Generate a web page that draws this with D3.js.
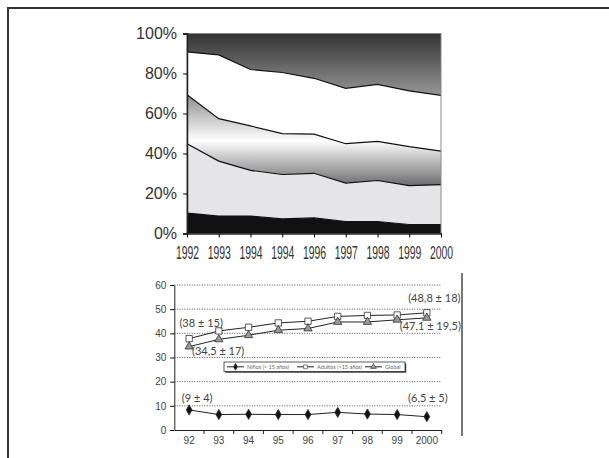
<!DOCTYPE html>
<html>
<head>
<meta charset="utf-8">
<script src="https://cdn.jsdelivr.net/npm/d3@7"></script>
<style>
  body { margin: 0; background: #fff; }
  svg { display: block; font-family: Lato, "Open Sans", sans-serif; }
</style>
</head>
<body>
<svg id="chart" width="609" height="458"></svg>
<script>
// top chart: stacked shares (%), bottom band first
const years = ['1992', '1993', '1994', '1994', '1996', '1997', '1998', '1999', '2000'];
const layerBlack = [10.2, 8.7, 8.7, 7.3, 7.8, 6.0, 6.0, 4.5, 4.5];
const layerLight = [34.7, 27.5, 22.9, 22.2, 22.3, 19.2, 20.5, 19.4, 19.9];
const layerMid = [24.5, 21.2, 22.2, 20.4, 19.6, 19.7, 19.6, 19.5, 16.8];
const layerWhite = [21.4, 31.9, 28.2, 30.6, 27.9, 27.7, 28.5, 27.9, 27.9];
const layerTop = [9.2, 10.7, 18.0, 19.5, 22.4, 27.4, 25.4, 28.7, 30.9];
const pctTicks = [0, 20, 40, 60, 80, 100];

// bottom chart: mean ages
const shortYears = ['92', '93', '94', '95', '96', '97', '98', '99', '2000'];
const ninos = [8.3, 6.4, 6.5, 6.4, 6.4, 7.3, 6.6, 6.4, 5.5];
const adultos = [37.8, 41.0, 42.5, 44.3, 45.0, 47.0, 47.4, 47.6, 48.5];
const global = [34.5, 37.5, 39.2, 41.3, 42.0, 44.7, 44.7, 45.6, 46.4];
const ageTicks = [0, 10, 20, 30, 40, 50, 60];
const legendNames = ['Niños (< 15 años)', 'Adultos (>15 años)', 'Global'];
const notes = ['(48,8 ± 18)', '(38 ± 15)', '(47,1 ± 19,5)', '(34,5 ± 17)', '(9 ± 4)', '(6,5 ± 5)'];

const svg = d3.select('#chart');

// page frame
svg.append('path').attr('d', 'M8,458V8H609').attr('fill', 'none')
    .attr('stroke', '#333').attr('stroke-width', 2);

// ---------- top chart ----------
const mTop = { left: 187, right: 441, top: 33.5, bottom: 233.5 };
const xTop = d3.scalePoint().domain(d3.range(years.length)).range([mTop.left, mTop.right]);
const yTop = d3.scaleLinear().domain([0, 100]).range([mTop.bottom, mTop.top]);

const defs = svg.append('defs');
const gMid = defs.append('linearGradient').attr('id', 'gMid')
    .attr('gradientUnits', 'userSpaceOnUse')
    .attr('x1', 0).attr('x2', 0).attr('y1', yTop(70)).attr('y2', yTop(23));
gMid.append('stop').attr('offset', 0).attr('stop-color', '#8a8a8a');
gMid.append('stop').attr('offset', 0.5).attr('stop-color', '#ffffff');
gMid.append('stop').attr('offset', 1).attr('stop-color', '#666666');
const gTop = defs.append('linearGradient').attr('id', 'gTop')
    .attr('gradientUnits', 'userSpaceOnUse')
    .attr('x1', 0).attr('x2', 0).attr('y1', yTop(100)).attr('y2', yTop(68));
gTop.append('stop').attr('offset', 0).attr('stop-color', '#333333');
gTop.append('stop').attr('offset', 1).attr('stop-color', '#999999');

const rows = years.map((y, i) => ({
    i, a: layerBlack[i], b: layerLight[i], c: layerMid[i], d: layerWhite[i], e: layerTop[i]
}));
const stack = d3.stack().keys(['a', 'b', 'c', 'd', 'e'])(rows);
const fills = ['#111', '#e5e5e7', 'url(#gMid)', '#fff', 'url(#gTop)'];

const area = d3.area().x(d => xTop(d.data.i)).y0(d => yTop(d[0])).y1(d => yTop(d[1]));
const line = d3.line().x(d => xTop(d.data.i)).y(d => yTop(d[1]));

svg.append('g').selectAll('path').data(stack).join('path')
    .attr('d', area).attr('fill', (d, i) => fills[i]);
svg.append('g').selectAll('path').data(stack.slice(0, 4)).join('path')
    .attr('d', line).attr('fill', 'none').attr('stroke', '#111').attr('stroke-width', 1.2);
svg.append('rect').attr('x', mTop.left).attr('y', mTop.top)
    .attr('width', mTop.right - mTop.left).attr('height', mTop.bottom - mTop.top)
    .attr('fill', 'none').attr('stroke', '#888').attr('stroke-width', 1);

const axT = svg.append('g').attr('transform', `translate(${mTop.left},0)`)
    .call(d3.axisLeft(yTop).tickValues(pctTicks).tickFormat(d => d + '%').tickSize(4).tickPadding(6));
axT.select('.domain').attr('stroke', '#222').attr('stroke-width', 1.5);
axT.selectAll('text').attr('font-size', 16).attr('fill', '#333');

// condensed year labels, squeezed horizontally
const axB = svg.append('g').attr('transform', `translate(0,${mTop.bottom})`)
    .call(d3.axisBottom(xTop).tickFormat(i => years[i]).tickSize(4).tickPadding(8).tickSizeOuter(0));
axB.select('.domain').attr('stroke', '#222').attr('stroke-width', 1.5);
axB.selectAll('text').attr('font-size', 19).attr('fill', '#333')
    .attr('transform', 'scale(0.55,1)');

// ---------- bottom chart ----------
const mBot = { left: 174.3, right: 441.7, top: 285, bottom: 430 };
const xBot = d3.scaleBand().domain(d3.range(shortYears.length)).range([mBot.left, mBot.right]);
const yBot = d3.scaleLinear().domain([0, 60]).range([mBot.bottom, mBot.top]);
const cx = i => xBot(i) + xBot.bandwidth() / 2;

svg.append('g').selectAll('line').data(ageTicks.slice(1)).join('line')
    .attr('x1', mBot.left).attr('x2', mBot.right)
    .attr('y1', d => yBot(d)).attr('y2', d => yBot(d))
    .attr('stroke', '#555').attr('stroke-width', 1).attr('stroke-dasharray', '1,1.5');

const ayB = svg.append('g').attr('transform', `translate(${mBot.left},0)`)
    .call(d3.axisLeft(yBot).tickValues(ageTicks).tickSize(4).tickPadding(4).tickSizeOuter(0));
const axB2 = svg.append('g').attr('transform', `translate(0,${mBot.bottom})`)
    .call(d3.axisBottom(xBot).tickFormat(i => shortYears[i]).tickSize(0).tickPadding(7).tickSizeOuter(0));
axB2.selectAll('.tick').append('line').attr('x1', xBot.bandwidth() / 2).attr('x2', xBot.bandwidth() / 2)
    .attr('y2', 4).attr('stroke', '#222');
[ayB, axB2].forEach(a => {
    a.select('.domain').attr('stroke', '#222');
    a.selectAll('text').attr('font-size', 10).attr('fill', '#444');
});

const lineB = d3.line().x((d, i) => cx(i)).y(d => yBot(d));
const series = [
    { vals: ninos, sym: d3.symbolDiamond, size: 30, fill: '#111' },
    { vals: adultos, sym: d3.symbolSquare, size: 40, fill: '#fff' },
    { vals: global, sym: d3.symbolTriangle, size: 30, fill: '#999' }
];
series.forEach(s => {
    svg.append('path').datum(s.vals).attr('d', lineB)
        .attr('fill', 'none').attr('stroke', '#222').attr('stroke-width', 1);
    svg.append('g').selectAll('path').data(s.vals).join('path')
        .attr('transform', (d, i) => `translate(${cx(i)},${yBot(d)})`)
        .attr('d', d3.symbol(s.sym, s.size))
        .attr('fill', s.fill).attr('stroke', '#333').attr('stroke-width', 0.8);
});

// value notes: [series, index, dx, dy]
const notePos = [[1, 8, 7.5, -11], [1, 0, 12, -11.5], [2, 8, 3.5, 12], [2, 0, 29, 8.5], [0, 0, 8, -8], [0, 8, 1, -14.5]];
svg.append('g').selectAll('text').data(notes).join('text')
    .attr('x', (d, k) => cx(notePos[k][1]) + notePos[k][2])
    .attr('y', (d, k) => yBot(series[notePos[k][0]].vals[notePos[k][1]]) + notePos[k][3])
    .attr('text-anchor', 'middle').attr('font-size', 11).attr('fill', '#444')
    .text(d => d);

// legend
const lg = svg.append('g').attr('transform', 'translate(224,362)');
lg.append('rect').attr('x', 1.2).attr('y', 1.2).attr('width', 181).attr('height', 9.5).attr('fill', '#333');
lg.append('rect').attr('width', 181).attr('height', 9.5).attr('fill', '#fff')
    .attr('stroke', '#333').attr('stroke-width', 0.8);
const legX = [3, 73, 141];
legendNames.forEach((name, k) => {
    const g = lg.append('g').attr('transform', `translate(${legX[k]},4.8)`);
    g.append('line').attr('x1', 0).attr('x2', 17).attr('stroke', '#222');
    g.append('path').attr('transform', 'translate(8.5,0)')
        .attr('d', d3.symbol(series[k].sym, 14)).attr('fill', series[k].fill)
        .attr('stroke', '#333').attr('stroke-width', 0.6);
    g.append('text').attr('x', 20).attr('y', 2).attr('font-size', 5.5).attr('fill', '#666').text(name);
});

// side rule
svg.append('line').attr('x1', 462).attr('x2', 462).attr('y1', 273).attr('y2', 436)
    .attr('stroke', '#777').attr('stroke-width', 2);
</script>
</body>
</html>
